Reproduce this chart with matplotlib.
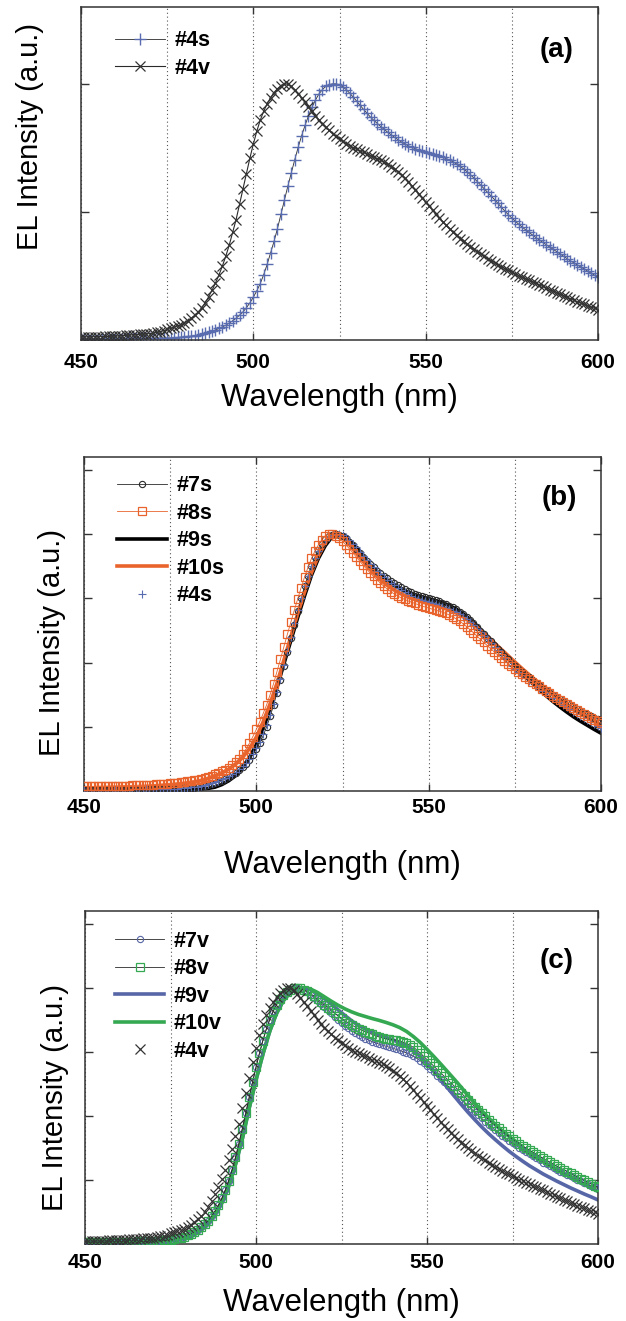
import numpy as np
import matplotlib
matplotlib.use("Agg")
import matplotlib.pyplot as plt
from matplotlib.ticker import MultipleLocator

plt.rcParams['font.family'] = ['Liberation Sans', 'DejaVu Sans']

# ---------------- data ----------------
wl_1nm = np.arange(450, 601, 1)   # marker series sampled every 1 nm
wl_2nm = np.arange(450, 601, 2)   # line series sampled every 2 nm

# #4v  (black x)
s4v = [0.012,0.012,0.012,0.012,0.013,0.013,0.013,0.014,0.014,0.015,
       0.015,0.016,0.017,0.018,0.019,0.020,0.021,0.022,0.023,0.024,
       0.025,0.027,0.030,0.033,0.037,0.041,0.045,0.050,0.055,0.060,
       0.066,0.074,0.084,0.096,0.110,0.125,0.145,0.168,0.194,0.222,
       0.253,0.288,0.327,0.370,0.420,0.470,0.530,0.590,0.650,0.710,
       0.765,0.815,0.858,0.893,0.922,0.946,0.966,0.981,0.993,1.000,
       0.998,0.990,0.977,0.962,0.945,0.928,0.910,0.893,0.876,0.860,
       0.845,0.831,0.818,0.806,0.795,0.785,0.776,0.767,0.759,0.751,
       0.744,0.738,0.732,0.726,0.720,0.714,0.708,0.701,0.694,0.686,
       0.677,0.667,0.656,0.644,0.631,0.617,0.602,0.587,0.571,0.555,
       0.539,0.523,0.507,0.491,0.476,0.461,0.447,0.433,0.420,0.408,
       0.396,0.385,0.374,0.364,0.354,0.345,0.336,0.327,0.318,0.310,
       0.302,0.294,0.286,0.279,0.272,0.265,0.258,0.251,0.245,0.239,
       0.233,0.227,0.221,0.215,0.209,0.203,0.197,0.191,0.185,0.179,
       0.173,0.167,0.161,0.155,0.149,0.144,0.139,0.134,0.129,0.124,
       0.119]

# #4s  (blue +)
s4s = [0.005,0.005,0.005,0.005,0.005,0.005,0.005,0.005,0.005,0.005,
       0.005,0.005,0.005,0.005,0.006,0.006,0.006,0.006,0.006,0.006,
       0.006,0.006,0.007,0.007,0.007,0.008,0.008,0.009,0.010,0.011,
       0.012,0.014,0.015,0.017,0.019,0.022,0.026,0.030,0.034,0.039,
       0.045,0.051,0.058,0.066,0.075,0.085,0.097,0.110,0.126,0.145,
       0.167,0.192,0.220,0.255,0.295,0.340,0.385,0.435,0.490,0.545,
       0.600,0.652,0.703,0.752,0.797,0.838,0.875,0.908,0.936,0.960,
       0.977,0.990,0.997,1.000,1.000,0.996,0.988,0.977,0.963,0.948,
       0.932,0.916,0.900,0.885,0.870,0.857,0.845,0.833,0.822,0.811,
       0.801,0.791,0.782,0.773,0.765,0.758,0.752,0.747,0.742,0.738,
       0.734,0.730,0.726,0.722,0.718,0.713,0.708,0.702,0.695,0.687,
       0.678,0.668,0.657,0.645,0.632,0.618,0.604,0.590,0.576,0.562,
       0.548,0.533,0.518,0.503,0.489,0.476,0.464,0.452,0.441,0.430,
       0.420,0.410,0.400,0.390,0.381,0.372,0.363,0.354,0.345,0.336,
       0.327,0.318,0.309,0.301,0.293,0.285,0.277,0.269,0.261,0.253,
       0.245]

# #7s  (black open circles)
s7s = [0.004,0.004,0.004,0.004,0.004,0.004,0.004,0.004,0.004,0.004,
       0.004,0.004,0.004,0.004,0.005,0.005,0.005,0.005,0.005,0.006,
       0.006,0.006,0.006,0.007,0.007,0.007,0.008,0.008,0.009,0.010,
       0.011,0.012,0.013,0.015,0.017,0.019,0.022,0.026,0.030,0.035,
       0.040,0.046,0.053,0.061,0.070,0.080,0.092,0.106,0.122,0.141,
       0.163,0.188,0.216,0.250,0.290,0.334,0.382,0.432,0.485,0.540,
       0.595,0.648,0.700,0.750,0.796,0.838,0.876,0.910,0.939,0.962,
       0.979,0.991,0.998,1.000,0.998,0.992,0.983,0.971,0.957,0.942,
       0.927,0.912,0.897,0.883,0.870,0.858,0.847,0.837,0.828,0.819,
       0.810,0.802,0.794,0.787,0.780,0.774,0.768,0.763,0.758,0.754,
       0.750,0.746,0.742,0.738,0.733,0.728,0.722,0.715,0.707,0.698,
       0.688,0.677,0.665,0.652,0.638,0.624,0.610,0.596,0.582,0.568,
       0.554,0.540,0.526,0.513,0.500,0.488,0.476,0.464,0.453,0.442,
       0.432,0.422,0.412,0.402,0.393,0.384,0.375,0.366,0.358,0.350,
       0.342,0.334,0.326,0.319,0.312,0.305,0.298,0.291,0.285,0.279,
       0.273]

# #8s  (orange open squares)
s8s = [0.018,0.018,0.018,0.018,0.019,0.019,0.019,0.019,0.020,0.020,
       0.020,0.021,0.021,0.021,0.022,0.022,0.023,0.023,0.024,0.024,
       0.025,0.026,0.027,0.028,0.029,0.030,0.031,0.032,0.034,0.035,
       0.037,0.039,0.041,0.044,0.047,0.051,0.055,0.060,0.065,0.070,
       0.076,0.083,0.091,0.100,0.112,0.126,0.143,0.163,0.186,0.212,
       0.240,0.270,0.302,0.336,0.375,0.418,0.465,0.513,0.562,0.610,
       0.657,0.703,0.748,0.792,0.833,0.871,0.905,0.934,0.958,0.978,
       0.992,1.000,0.999,0.993,0.984,0.972,0.958,0.943,0.927,0.911,
       0.895,0.879,0.864,0.849,0.835,0.822,0.809,0.797,0.786,0.776,
       0.767,0.759,0.752,0.746,0.740,0.735,0.730,0.725,0.720,0.716,
       0.712,0.708,0.704,0.700,0.696,0.691,0.685,0.678,0.670,0.661,
       0.651,0.640,0.628,0.616,0.603,0.590,0.578,0.566,0.554,0.542,
       0.530,0.518,0.507,0.496,0.485,0.474,0.464,0.454,0.444,0.434,
       0.425,0.416,0.407,0.398,0.389,0.380,0.371,0.362,0.354,0.346,
       0.338,0.330,0.322,0.314,0.306,0.299,0.292,0.285,0.278,0.271,
       0.264]

# #9s  (thick black line)
s9s = [0.003,0.003,0.003,0.003,0.003,0.003,0.003,0.003,0.003,0.003,
       0.004,0.004,0.004,0.005,0.005,0.006,0.007,0.008,0.010,0.015,
       0.025,0.040,0.060,0.090,0.130,0.180,0.245,0.320,0.405,0.495,
       0.585,0.675,0.760,0.840,0.905,0.955,0.990,1.000,0.990,0.963,
       0.930,0.895,0.865,0.840,0.818,0.800,0.786,0.774,0.764,0.756,
       0.748,0.741,0.733,0.722,0.708,0.690,0.668,0.643,0.616,0.588,
       0.560,0.531,0.502,0.474,0.447,0.421,0.396,0.372,0.349,0.328,
       0.308,0.289,0.272,0.256,0.240,0.225]

# #10s (thick orange line)
s10s = [0.012,0.012,0.012,0.013,0.013,0.013,0.014,0.014,0.015,0.016,
        0.018,0.020,0.022,0.024,0.027,0.030,0.034,0.040,0.048,0.058,
        0.070,0.085,0.105,0.130,0.165,0.210,0.270,0.340,0.420,0.510,
        0.600,0.690,0.775,0.850,0.915,0.965,1.000,0.993,0.975,0.943,
        0.910,0.878,0.848,0.822,0.800,0.782,0.767,0.755,0.745,0.737,
        0.729,0.722,0.714,0.705,0.693,0.678,0.660,0.638,0.615,0.590,
        0.565,0.540,0.515,0.490,0.466,0.443,0.420,0.398,0.377,0.357,
        0.338,0.320,0.303,0.287,0.271,0.256]

# #7v  (blue open circles)
s7v = [0.008,0.008,0.008,0.008,0.008,0.008,0.008,0.008,0.008,0.008,
       0.008,0.008,0.009,0.009,0.009,0.009,0.010,0.010,0.010,0.011,
       0.011,0.012,0.013,0.014,0.015,0.017,0.019,0.022,0.025,0.029,
       0.034,0.040,0.047,0.055,0.065,0.077,0.091,0.108,0.128,0.151,
       0.178,0.210,0.247,0.290,0.338,0.392,0.450,0.511,0.572,0.632,
       0.690,0.744,0.794,0.838,0.876,0.908,0.934,0.955,0.971,0.984,
       0.993,0.998,1.000,0.997,0.991,0.983,0.973,0.962,0.950,0.938,
       0.926,0.913,0.900,0.888,0.876,0.864,0.853,0.843,0.833,0.824,
       0.816,0.809,0.802,0.796,0.790,0.785,0.780,0.776,0.772,0.768,
       0.764,0.760,0.756,0.751,0.746,0.740,0.733,0.725,0.716,0.705,
       0.694,0.682,0.670,0.657,0.644,0.631,0.618,0.605,0.592,0.579,
       0.566,0.553,0.540,0.527,0.514,0.502,0.490,0.478,0.466,0.455,
       0.444,0.433,0.423,0.413,0.403,0.394,0.385,0.376,0.367,0.358,
       0.350,0.342,0.334,0.326,0.318,0.311,0.304,0.297,0.290,0.283,
       0.276,0.270,0.264,0.257,0.251,0.245,0.239,0.233,0.228,0.222,
       0.217]

# #8v  (green open squares)
s8v = [0.008,0.008,0.008,0.008,0.008,0.008,0.008,0.008,0.008,0.008,
       0.008,0.008,0.009,0.009,0.009,0.009,0.010,0.010,0.010,0.011,
       0.011,0.012,0.013,0.014,0.015,0.017,0.019,0.022,0.025,0.029,
       0.034,0.040,0.047,0.055,0.065,0.077,0.091,0.108,0.128,0.151,
       0.178,0.210,0.247,0.290,0.338,0.392,0.450,0.511,0.572,0.632,
       0.690,0.744,0.794,0.838,0.876,0.908,0.934,0.955,0.971,0.984,
       0.993,0.998,1.000,0.998,0.993,0.986,0.977,0.967,0.956,0.945,
       0.934,0.923,0.912,0.901,0.891,0.881,0.872,0.863,0.855,0.847,
       0.840,0.834,0.828,0.823,0.818,0.813,0.808,0.804,0.801,0.799,
       0.798,0.795,0.792,0.788,0.783,0.776,0.768,0.758,0.746,0.733,
       0.720,0.707,0.694,0.681,0.668,0.655,0.642,0.629,0.616,0.603,
       0.590,0.576,0.563,0.549,0.536,0.523,0.511,0.498,0.486,0.474,
       0.462,0.451,0.440,0.430,0.420,0.410,0.401,0.392,0.383,0.374,
       0.366,0.358,0.350,0.342,0.334,0.326,0.319,0.311,0.304,0.297,
       0.290,0.283,0.276,0.268,0.261,0.254,0.248,0.241,0.235,0.228,
       0.222]

# #9v  (thick blue line)
s9v = [0.008,0.008,0.008,0.008,0.008,0.008,0.008,0.009,0.009,0.009,
       0.010,0.011,0.012,0.015,0.020,0.027,0.038,0.055,0.080,0.115,
       0.160,0.225,0.310,0.410,0.530,0.640,0.740,0.830,0.900,0.950,
       0.982,0.998,1.000,0.993,0.978,0.958,0.937,0.914,0.892,0.871,
       0.853,0.839,0.827,0.817,0.807,0.797,0.786,0.773,0.756,0.733,
       0.705,0.675,0.643,0.610,0.577,0.545,0.514,0.485,0.457,0.431,
       0.407,0.384,0.362,0.342,0.323,0.305,0.289,0.273,0.259,0.245,
       0.232,0.219,0.207,0.195,0.184,0.172]

# #10v (thick green line)
s10v = [0.008,0.008,0.008,0.008,0.008,0.008,0.008,0.009,0.009,0.009,
        0.010,0.011,0.012,0.015,0.020,0.027,0.038,0.055,0.080,0.115,
        0.160,0.225,0.310,0.410,0.530,0.640,0.740,0.830,0.900,0.950,
        0.982,0.998,1.000,0.995,0.982,0.965,0.948,0.932,0.918,0.906,
        0.896,0.888,0.880,0.873,0.865,0.856,0.845,0.830,0.810,0.787,
        0.760,0.732,0.703,0.673,0.643,0.612,0.580,0.549,0.520,0.492,
        0.466,0.442,0.420,0.400,0.376,0.355,0.338,0.322,0.306,0.291,
        0.276,0.261,0.247,0.233,0.219,0.205]

x_ticks = [450, 500, 550, 600]
panel_tags = ['(a)', '(b)', '(c)']

# ---------------- colours ----------------
C_BLUE = '#5a6cb0'
C_DARK = '#2a2a2a'
C_ORANGE = '#e8642c'
C_GREEN = '#35a852'
C_BLUE_LINE = '#5766a6'

W, H = 626, 1321
fig = plt.figure(figsize=(W / 100, H / 100), dpi=100)

def make_axes(l, r, t, b):
    return fig.add_axes([l / W, 1 - b / H, (r - l) / W, (b - t) / H])

axA = make_axes(81, 598, 7, 340)
axB = make_axes(84, 601, 457, 791)
axC = make_axes(85, 598, 911, 1244)

def style(ax, yticks, tag, tagy, pad, xl_y, yl_x, yl_y):
    ax.set_xlim(450, 600)
    ax.set_ylim(0, 1.3)
    ax.set_xticks(x_ticks)
    ax.xaxis.set_minor_locator(MultipleLocator(25))
    ax.set_yticks(yticks)
    ax.set_yticklabels([])
    ax.grid(True, which='both', axis='x', color='#555555',
            linestyle=(0, (1, 2.5)), linewidth=0.8)
    ax.tick_params(axis='x', which='major', direction='in', top=True,
                   length=5, width=1, color='#333333', pad=pad,
                   labelsize=15)
    ax.tick_params(axis='x', which='minor', direction='in', top=True,
                   length=0)
    ax.tick_params(axis='y', which='major', direction='in', right=True,
                   length=6, width=1, color='#333333')
    for lab in ax.get_xticklabels():
        lab.set_fontweight('bold')
    for sp in ax.spines.values():
        sp.set_color('#333333')
        sp.set_linewidth(1.1)
    ax.set_xlabel('Wavelength (nm)', fontsize=22.5)
    ax.xaxis.label.set_va('center')
    ax.xaxis.set_label_coords(0.5, xl_y)
    ax.set_ylabel('EL Intensity (a.u.)', fontsize=21)
    ax.yaxis.label.set_va('center')
    ax.yaxis.set_label_coords(yl_x, yl_y)
    ax.text(0.92, tagy, tag, transform=ax.transAxes, ha='center',
            va='center', fontsize=20, fontweight='bold')

def legend(ax, x0, y0):
    ax.legend(loc='upper left', bbox_to_anchor=(x0, y0), frameon=False,
              borderpad=0, borderaxespad=0, handlelength=2.3,
              handletextpad=0.45, labelspacing=0.3, numpoints=1,
              prop={'weight': 'bold', 'size': 15.5})

# ---------------- panel (a) ----------------
axA.plot(wl_1nm, s4s, color=C_DARK, lw=0.6, marker='+', ms=8, mew=1.0,
         mec=C_BLUE, label='#4s')
axA.plot(wl_1nm, s4v, color=C_DARK, lw=0.8, marker='x', ms=6.5, mew=0.9,
         mec='#333333', label='#4v')
style(axA, [0.5, 1.0], panel_tags[0], 0.872, 9, -0.174, -0.099, 0.61)
legend(axA, 0.066, 0.93)

# ---------------- panel (b) ----------------
axB.plot(wl_1nm, s7s, color=C_DARK, lw=0.6, marker='o', ms=4.5, mew=0.8,
         mfc='none', mec=C_DARK, label='#7s', zorder=3)
axB.plot(wl_1nm, s8s, color=C_ORANGE, lw=0.6, marker='s', ms=5.2, mew=0.9,
         mfc='none', mec=C_ORANGE, label='#8s', zorder=4)
axB.plot(wl_2nm, s9s, color='black', lw=2.6, label='#9s', zorder=2)
axB.plot(wl_2nm, s10s, color=C_ORANGE, lw=2.6, label='#10s', zorder=2)
axB.plot(wl_1nm, s4s, linestyle='none', marker='+', ms=6, mew=0.8,
         mec=C_BLUE, label='#4s', zorder=3)
style(axB, [0.25, 0.5, 0.75, 1.0, 1.25], panel_tags[1], 0.878, 5,
      -0.222, -0.062, 0.446)
legend(axB, 0.064, 0.945)

# ---------------- panel (c) ----------------
axC.plot(wl_1nm, s7v, color=C_DARK, lw=0.6, marker='o', ms=4.5, mew=0.8,
         mfc='none', mec=C_BLUE_LINE, label='#7v', zorder=3)
axC.plot(wl_1nm, s8v, color=C_DARK, lw=0.6, marker='s', ms=5.2, mew=0.9,
         mfc='none', mec=C_GREEN, label='#8v', zorder=4)
axC.plot(wl_2nm, s9v, color=C_BLUE_LINE, lw=2.6, label='#9v', zorder=2)
axC.plot(wl_2nm, s10v, color=C_GREEN, lw=2.6, label='#10v', zorder=2)
axC.plot(wl_1nm, s4v, linestyle='none', marker='x', ms=6.5, mew=0.9,
         mec='#333333', label='#4v', zorder=5)
style(axC, [0.25, 0.5, 0.75, 1.0, 1.25], panel_tags[2], 0.85, 6.5,
      -0.177, -0.058, 0.44)
legend(axC, 0.058, 0.94)

fig.savefig('out.png', dpi=100)
